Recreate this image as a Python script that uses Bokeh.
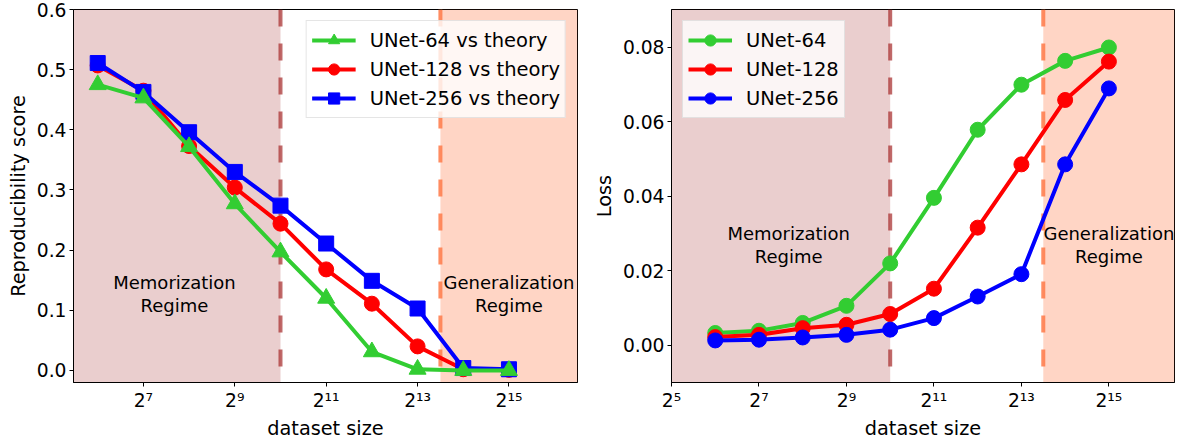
from bokeh.plotting import figure
from bokeh.layouts import row
from bokeh.models import (FixedTicker, NumeralTickFormatter, BoxAnnotation, Span,
                          Legend, LegendItem, Label, Range1d)
from bokeh.embed import file_html
from bokeh.resources import INLINE

# ---------------- data ----------------
dataset_sizes = [64, 128, 256, 512, 1024, 2048, 4096, 8192, 16384, 32768]

repro_unet64 = [0.475, 0.453, 0.372, 0.277, 0.197, 0.120, 0.031, 0.002, 0.000, 0.000]
repro_unet128 = [0.507, 0.465, 0.373, 0.304, 0.244, 0.168, 0.111, 0.040, 0.002, 0.001]
repro_unet256 = [0.511, 0.463, 0.396, 0.330, 0.274, 0.211, 0.149, 0.103, 0.004, 0.002]

loss_unet64 = [0.0033, 0.0039, 0.0060, 0.0106, 0.0220, 0.0396, 0.0579, 0.0700, 0.0764, 0.0800]
loss_unet128 = [0.0022, 0.0028, 0.0046, 0.0055, 0.0084, 0.0152, 0.0316, 0.0486, 0.0659, 0.0762]
loss_unet256 = [0.0013, 0.0015, 0.0021, 0.0028, 0.0042, 0.0073, 0.0131, 0.0191, 0.0486, 0.0690]

left_xticks = [128, 512, 2048, 8192, 32768]
left_xlabels = ["2⁷", "2⁹", "2¹¹", "2¹³", "2¹⁵"]
right_xticks = [32, 128, 512, 2048, 8192, 32768]
right_xlabels = ["2⁵", "2⁷", "2⁹", "2¹¹", "2¹³", "2¹⁵"]
left_yticks = [0.0, 0.1, 0.2, 0.3, 0.4, 0.5, 0.6]
right_yticks = [0.0, 0.02, 0.04, 0.06, 0.08]

memorization_end = 1024          # 2^10
generalization_start = 11585     # 2^13.5

FONT = "DejaVu Sans"


def style(p, xticks, xlabels, yticks, yfmt):
    p.xgrid.visible = False
    p.ygrid.visible = False
    p.outline_line_color = "black"
    p.outline_line_width = 1
    p.background_fill_color = "white"
    p.border_fill_color = "white"
    p.xaxis.ticker = FixedTicker(ticks=xticks)
    p.xaxis.major_label_overrides = {t: l for t, l in zip(xticks, xlabels)}
    p.yaxis.ticker = FixedTicker(ticks=yticks)
    p.yaxis.formatter = NumeralTickFormatter(format=yfmt)
    for ax in (p.xaxis, p.yaxis):
        ax.axis_line_color = "black"
        ax.major_tick_line_color = "black"
        ax.major_tick_out = 4
        ax.major_tick_in = 0
        ax.minor_tick_line_color = None
        ax.major_label_text_font = FONT
        ax.major_label_text_font_size = "18.7px"
        ax.major_label_text_color = "black"
        ax.axis_label_text_font = FONT
        ax.axis_label_text_font_size = "19.3px"
        ax.axis_label_text_font_style = "normal"
        ax.axis_label_text_color = "black"
    p.xaxis.major_label_standoff = 3
    p.yaxis.major_label_standoff = 3
    p.xaxis.axis_label_standoff = 3
    p.yaxis.axis_label_standoff = 4


def regions(p):
    p.add_layout(BoxAnnotation(right=memorization_end, fill_color="brown", fill_alpha=0.23,
                               line_color=None, level="underlay"))
    p.add_layout(BoxAnnotation(left=generalization_start, fill_color="coral", fill_alpha=0.33,
                               line_color=None, level="underlay"))
    p.add_layout(Span(location=memorization_end, dimension="height", line_color="brown",
                      line_alpha=0.7, line_width=4, line_dash="17 17", level="underlay"))
    p.add_layout(Span(location=generalization_start, dimension="height", line_color="coral",
                      line_alpha=0.9, line_width=4, line_dash="17 17", level="underlay"))


def legend(p, items, loc):
    lg = Legend(items=items, location=loc)
    lg.label_text_font = FONT
    lg.label_text_font_size = "19.5px"
    lg.label_text_color = "black"
    lg.background_fill_color = "white"
    lg.background_fill_alpha = 0.8
    lg.border_line_color = "#cccccc"
    lg.border_line_width = 1
    lg.margin = 11
    lg.padding = 5
    lg.spacing = 1
    lg.glyph_width = 44
    lg.glyph_height = 28
    lg.label_height = 28
    lg.label_standoff = 14
    p.add_layout(lg)


def annotate(p, mx, gx, y):
    for x, t in ((mx, "Memorization\nRegime"), (gx, "Generalization\nRegime")):
        p.add_layout(Label(x=x, y=y, text=t, text_align="center", text_baseline="middle",
                           text_font=FONT, text_font_size="18px", text_line_height=1.1,
                           text_color="black"))


# ---------------- left panel ----------------
p1 = figure(width=588, height=442, x_axis_type="log",
            x_range=Range1d(2 ** 5.47, 2 ** 16.5), y_range=Range1d(-0.02, 0.6),
            output_backend="svg", toolbar_location=None,
            min_border_left=73, min_border_right=11, min_border_top=9, min_border_bottom=59,
            x_axis_label="dataset size", y_axis_label="Reproducibility score")
style(p1, left_xticks, left_xlabels, left_yticks, "0.0")
regions(p1)
annotate(p1, 2 ** 7.68, 2 ** 15, 0.1265)

lr1 = p1.line(dataset_sizes, repro_unet128, line_color="red", line_width=4)
sr1 = p1.scatter(dataset_sizes, repro_unet128, marker="circle", size=15, color="red")
lr2 = p1.line(dataset_sizes, repro_unet256, line_color="blue", line_width=4)
sr2 = p1.scatter(dataset_sizes, repro_unet256, marker="square", size=15, color="blue")
lr0 = p1.line(dataset_sizes, repro_unet64, line_color="limegreen", line_width=4)
sr0 = p1.scatter(dataset_sizes, repro_unet64, marker="triangle", size=17, color="limegreen")
legend(p1, [LegendItem(label="UNet-64 vs theory", renderers=[lr0, sr0]),
            LegendItem(label="UNet-128 vs theory", renderers=[lr1, sr1]),
            LegendItem(label="UNet-256 vs theory", renderers=[lr2, sr2])], "top_right")

# ---------------- right panel ----------------
p2 = figure(width=593, height=442, x_axis_type="log",
            x_range=Range1d(2 ** 5, 2 ** 16.5), y_range=Range1d(-0.01, 0.0902),
            output_backend="svg", toolbar_location=None,
            min_border_left=83, min_border_right=7, min_border_top=9, min_border_bottom=59,
            x_axis_label="dataset size", y_axis_label="Loss")
style(p2, right_xticks, right_xlabels, right_yticks, "0.00")
regions(p2)
annotate(p2, 2 ** 7.68, 2 ** 15, 0.0269)

l0 = p2.line(dataset_sizes, loss_unet64, line_color="limegreen", line_width=4)
s0 = p2.scatter(dataset_sizes, loss_unet64, marker="circle", size=15, color="limegreen")
l1 = p2.line(dataset_sizes, loss_unet128, line_color="red", line_width=4)
s1 = p2.scatter(dataset_sizes, loss_unet128, marker="circle", size=15, color="red")
l2 = p2.line(dataset_sizes, loss_unet256, line_color="blue", line_width=4)
s2 = p2.scatter(dataset_sizes, loss_unet256, marker="circle", size=15, color="blue")
legend(p2, [LegendItem(label="UNet-64", renderers=[l0, s0]),
            LegendItem(label="UNet-128", renderers=[l1, s1]),
            LegendItem(label="UNet-256", renderers=[l2, s2])], "top_left")

layout = row(p1, p2)
open("out.html", "w").write(file_html(layout, INLINE))
